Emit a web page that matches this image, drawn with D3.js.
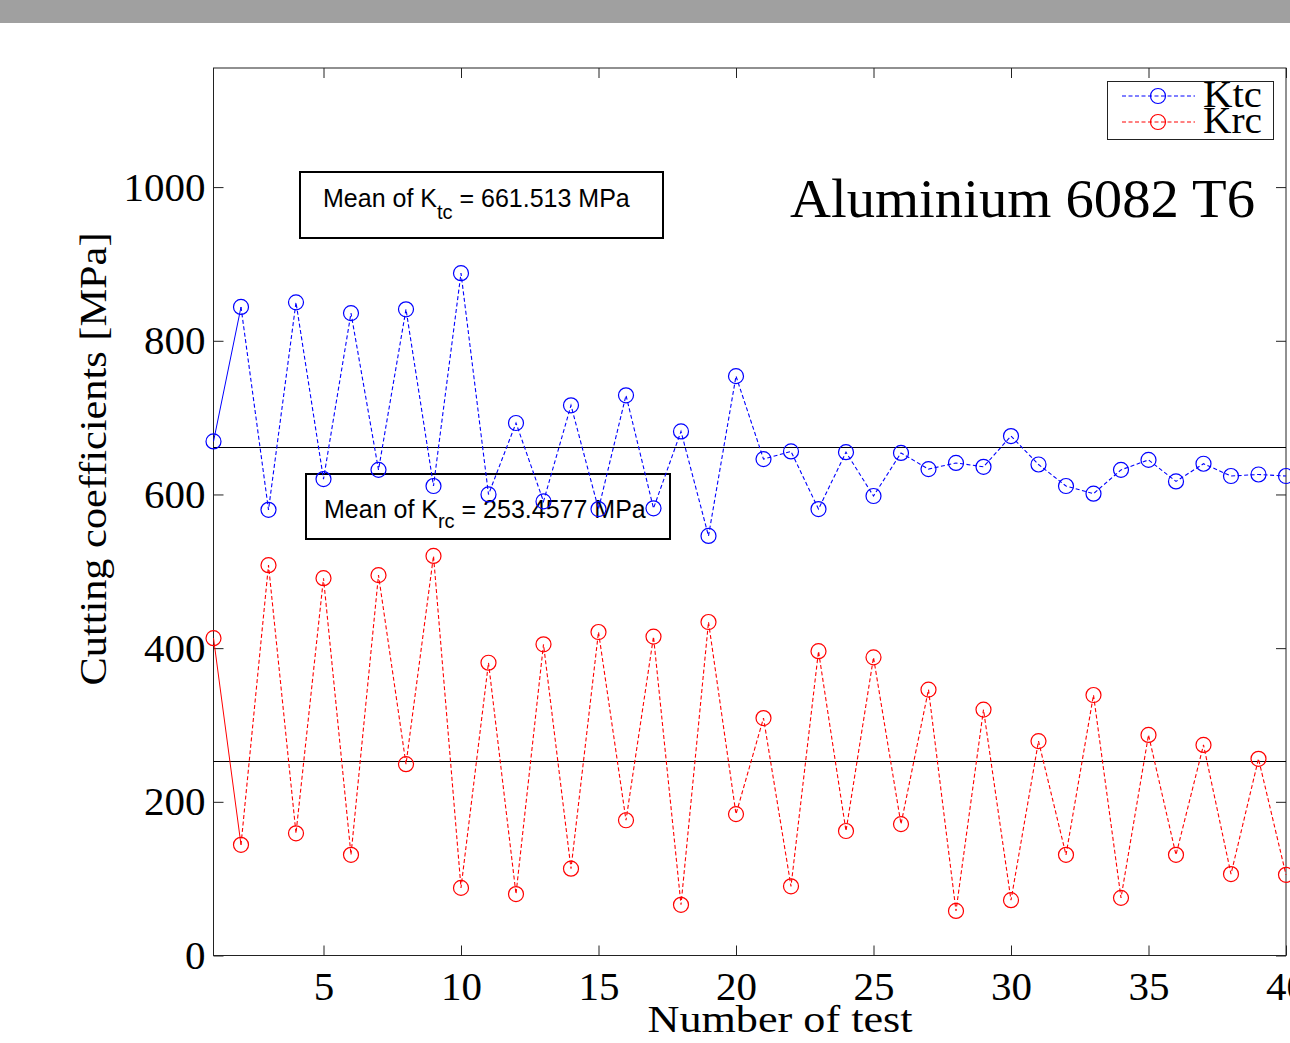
<!DOCTYPE html>
<html>
<head>
<meta charset="utf-8">
<script src="https://cdn.jsdelivr.net/npm/d3@7"></script>
<style>
  body { margin: 0; background: #fff; }
  svg text { fill: #000; }
</style>
</head>
<body>
<div id="chart"></div>
<script>
// values
const tests = [1, 2, 3, 4, 5, 6, 7, 8, 9, 10, 11, 12, 13, 14, 15, 16, 17, 18, 19, 20,
  21, 22, 23, 24, 25, 26, 27, 28, 29, 30, 31, 32, 33, 34, 35, 36, 37, 38, 39, 40];
const ktc = [669, 844, 580, 850, 620, 836, 632, 841, 611, 888, 600, 693, 591, 716, 581, 729, 582, 682, 546, 754,
  646, 656, 581, 655, 598, 654, 633, 641, 636, 676, 639, 611, 601, 632, 645, 617, 640, 624, 626, 624];
const krc = [413, 144, 508, 159, 491, 131, 495, 249, 520, 88, 381, 80, 405, 113, 421, 176, 415, 66, 434, 184,
  309, 90, 396, 162, 388, 171, 346, 58, 320, 72, 279, 131, 339, 75, 287, 131, 274, 106, 256, 105];
const meanKtc = 661.513;
const meanKrc = 253.4577;
const xTicks = [5, 10, 15, 20, 25, 30, 35, 40];
const yTicks = [0, 200, 400, 600, 800, 1000];
const seriesNames = ["Ktc", "Krc"];
const seriesColors = ["#0000ff", "#ff0000"];

const W = 1290, H = 1043;
const m = { left: 213.5, right: 1286, top: 68, bottom: 955.5 };
const serif = "'Liberation Serif', 'Times New Roman', serif";
const sans = "'Liberation Sans', Arial, sans-serif";

const svg = d3.select("#chart").append("svg")
  .attr("width", W)
  .attr("height", H);

svg.append("rect")
  .attr("x", 0).attr("y", 0)
  .attr("width", W).attr("height", 23)
  .attr("fill", "#a0a0a0");

const x = d3.scaleLinear().domain([1, 40]).range([m.left, m.right]);
const y = d3.scaleLinear().domain([0, 1155]).range([m.bottom, m.top]);

// axes, ticks inward
const gx = svg.append("g")
  .attr("transform", "translate(0," + m.bottom + ")")
  .call(d3.axisBottom(x).tickValues(xTicks).tickSize(-10).tickPadding(15).tickFormat(d3.format("d")));
const gxTop = svg.append("g")
  .attr("transform", "translate(0," + m.top + ")")
  .call(d3.axisTop(x).tickValues(xTicks).tickSize(-10).tickFormat(""));
const gy = svg.append("g")
  .attr("transform", "translate(" + m.left + ",0)")
  .call(d3.axisLeft(y).tickValues(yTicks).tickSize(-10).tickPadding(8).tickFormat(d3.format("d")));
const gyRight = svg.append("g")
  .attr("transform", "translate(" + m.right + ",0)")
  .call(d3.axisRight(y).tickValues(yTicks).tickSize(-10).tickFormat(""));

[gx, gxTop, gy, gyRight].forEach(g => {
  g.select(".domain").remove();
  g.selectAll(".tick line").attr("stroke", "#222");
  g.selectAll(".tick text")
    .attr("font-family", serif)
    .attr("font-size", 41);
});

svg.append("rect")
  .attr("x", m.left).attr("y", m.top)
  .attr("width", m.right - m.left).attr("height", m.bottom - m.top)
  .attr("fill", "none")
  .attr("stroke", "#222")
  .attr("stroke-width", 1);

// axis titles
svg.append("text")
  .attr("x", 780).attr("y", 1032)
  .attr("text-anchor", "middle")
  .attr("font-family", serif).attr("font-size", 38)
  .attr("textLength", 265).attr("lengthAdjust", "spacingAndGlyphs")
  .text("Number of test");

svg.append("text")
  .attr("transform", "translate(106,459) rotate(-90)")
  .attr("text-anchor", "middle")
  .attr("font-family", serif).attr("font-size", 38)
  .attr("textLength", 453).attr("lengthAdjust", "spacingAndGlyphs")
  .text("Cutting coefficients [MPa]");

svg.append("text")
  .attr("x", 790).attr("y", 217)
  .attr("font-family", serif).attr("font-size", 54)
  .attr("textLength", 465).attr("lengthAdjust", "spacingAndGlyphs")
  .text("Aluminium 6082 T6");

// mean lines
[meanKtc, meanKrc].forEach(v => {
  svg.append("line")
    .attr("x1", x(1)).attr("x2", x(40))
    .attr("y1", Math.round(y(v)) + 0.5).attr("y2", Math.round(y(v)) + 0.5)
    .attr("stroke", "#000").attr("stroke-width", 1);
});

// annotation boxes
const notes = [
  { sub: "tc", value: meanKtc, box: [300, 172, 363, 66], tx: 323, ty: 207, shift: 12 },
  { sub: "rc", value: meanKrc, box: [306, 474, 364, 65], tx: 324, ty: 518, shift: 10 }
];
notes.forEach(n => {
  svg.append("rect")
    .attr("x", n.box[0]).attr("y", n.box[1])
    .attr("width", n.box[2]).attr("height", n.box[3])
    .attr("fill", "#fff")
    .attr("stroke", "#000").attr("stroke-width", 2);
  const t = svg.append("text")
    .attr("x", n.tx).attr("y", n.ty)
    .attr("font-family", sans).attr("font-size", 25);
  t.append("tspan").text("Mean of K");
  t.append("tspan").attr("dy", n.shift).attr("font-size", 20).text(n.sub);
  t.append("tspan").attr("dy", -n.shift).text(" = " + n.value + " MPa");
});

// series
const line = d3.line().x(d => x(d[0])).y(d => y(d[1]));
[ktc, krc].forEach((vals, s) => {
  const pts = tests.map((t, i) => [t, vals[i]]);
  const g = svg.append("g");
  g.append("path")
    .attr("d", line(pts.slice(0, 2)))
    .attr("fill", "none")
    .attr("stroke", seriesColors[s]).attr("stroke-width", 1);
  g.append("path")
    .attr("d", line(pts.slice(1)))
    .attr("fill", "none")
    .attr("stroke", seriesColors[s]).attr("stroke-width", 1.1)
    .attr("stroke-dasharray", "4,2.5");
  g.selectAll("circle")
    .data(pts)
    .enter()
    .append("circle")
      .attr("cx", d => x(d[0]))
      .attr("cy", d => y(d[1]))
      .attr("r", 7.5)
      .attr("fill", "none")
      .attr("stroke", seriesColors[s])
      .attr("stroke-width", 1.2);
});

// legend
const lg = svg.append("g");
lg.append("rect")
  .attr("x", 1107.5).attr("y", 81.5)
  .attr("width", 166).attr("height", 58)
  .attr("fill", "#fff")
  .attr("stroke", "#222").attr("stroke-width", 1);
seriesNames.forEach((name, i) => {
  const ly = 96 + i * 26;
  lg.append("line")
    .attr("x1", 1122).attr("x2", 1195)
    .attr("y1", ly).attr("y2", ly)
    .attr("stroke", seriesColors[i]).attr("stroke-width", 1)
    .attr("stroke-dasharray", "4,2.5");
  lg.append("circle")
    .attr("cx", 1158).attr("cy", ly).attr("r", 7.5)
    .attr("fill", "none")
    .attr("stroke", seriesColors[i]).attr("stroke-width", 1.2);
  lg.append("text")
    .attr("x", 1203).attr("y", ly + 11)
    .attr("font-family", serif).attr("font-size", 38)
    .attr("textLength", 59).attr("lengthAdjust", "spacingAndGlyphs")
    .text(name);
});
</script>
</body>
</html>
